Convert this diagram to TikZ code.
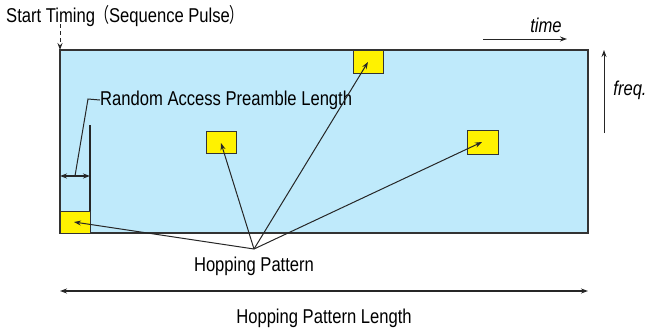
\documentclass[tikz,border=0pt]{standalone}
\usepackage{fontspec}
\setmainfont{Liberation Sans}[FakeStretch=0.83]
\newfontfamily\cjk{Noto Sans CJK SC}[FakeStretch=0.7]
\usetikzlibrary{arrows.meta}
\begin{document}
\begin{tikzpicture}[
        x=1pt, y=-1pt,
        band/.style={
            draw=black!80,
            fill=cyan!25!white,
            line width=1.2pt
        },
        slot/.style={
            draw=black!80,
            fill=yellow,
            line width=1pt
        },
        label/.style={
            font=\fontsize{20}{22}\selectfont,
            inner sep=0pt
        },
        arrow/.style={-{Stealth[length=7pt,width=5pt]}, line width=1pt, draw=black!85},
        twoway/.style={{Stealth[length=7pt,width=5pt]}-{Stealth[length=7pt,width=5pt]}, line width=1.2pt, draw=black!85}
    ]

        \useasboundingbox (0,0) rectangle (646,330);

        % time/frequency plane
        \draw[band] (60,50) rectangle (588,233);
        \coordinate (start) at (60,50);

        % hopping slots
        \draw[slot] (353,50) rectangle (383,73);
        \draw[slot] (206,131) rectangle (236,153);
        \draw[slot] (467,130) rectangle (498,154);
        \draw[slot] (60,211) rectangle (90,233);
        \coordinate (slottop) at (368,62);
        \coordinate (slotmid) at (221,143);
        \coordinate (slotright) at (482,142);
        \coordinate (slotfirst) at (74,222);

        % labels
        \node[label, anchor=west] (timing) at (6,16) {Start Timing{\cjk （}Sequence Pulse{\cjk ）}};
        \node[label, anchor=west] (preamble) at (100,100) {Random Access Preamble Length};
        \node[label, font=\fontsize{20}{22}\selectfont\itshape] (time) at (546,25) {time};
        \node[label, font=\fontsize{20}{22}\selectfont\itshape] (freq) at (630,90) {freq.};
        \node[label] (hopping) at (254,266) {Hopping Pattern};
        \node[label] (length) at (324,318) {Hopping Pattern Length};

        % axes
        \coordinate (timeL) at (483,39);
        \coordinate (timeR) at (567,39);
        \coordinate (freqB) at (604,133);
        \coordinate (freqT) at (604,50);
        \draw[arrow] (timeL) -- (timeR);
        \draw[arrow] (freqB) -- (freqT);
        \draw[arrow, dashed, dash pattern=on 4pt off 3pt] (60,24) -- (start);

        % preamble length
        \coordinate (barTop) at (90,125);
        \coordinate (barBot) at (90,211);
        \coordinate (pl) at (60,176);
        \coordinate (pr) at (90,176);
        \draw[line width=1.2pt, black!85] (barTop) -- (barBot);
        \draw[twoway] (pl) -- (pr);
        \draw[line width=1pt, black!85] (75,176) -- (88,99) -- (preamble.west);

        % hopping pattern pointers
        \coordinate (fan) at (254,249);
        \foreach \target in {slottop, slotmid, slotright, slotfirst}
            \draw[arrow] (fan) -- (\target);

        % total length
        \coordinate (lenL) at (60,291);
        \coordinate (lenR) at (588,291);
        \draw[twoway] (lenL) -- (lenR);

    \end{tikzpicture}
\end{document}
